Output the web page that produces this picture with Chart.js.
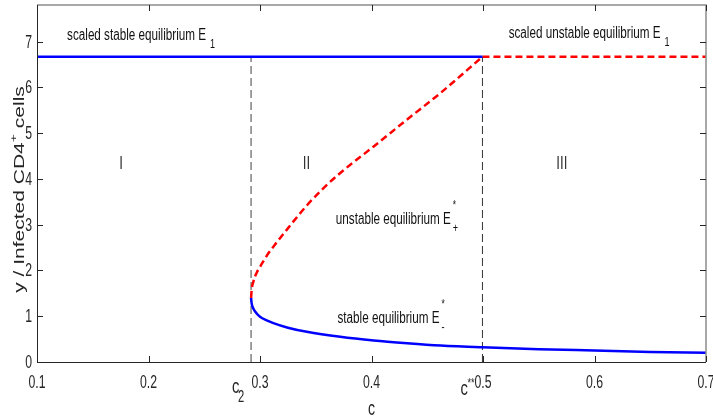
<!DOCTYPE html>
<html>
<head>
<meta charset="utf-8">
<script src="https://cdn.jsdelivr.net/npm/chart.js@4.4.1/dist/chart.umd.min.js"></script>
<style>
  html, body { margin: 0; padding: 0; background: #fff; }
  #chart { display: block; }
</style>
</head>
<body>
<canvas id="chart" width="713" height="418"></canvas>
<script>
// bifurcation values
var c2 = 0.292;
var cStar = 0.4995;
var E1 = 6.67;
var xMin = 0.1, xMax = 0.7;
var yMin = 0, yMax = 7.8;
var xTicks = [0.1, 0.2, 0.3, 0.4, 0.5, 0.6, 0.7];
var yTicks = [0, 1, 2, 3, 4, 5, 6, 7];

// unstable branch E+*
var upperC = [0.292, 0.2925, 0.294, 0.297, 0.3003, 0.306, 0.312, 0.325, 0.342, 0.357, 0.372, 0.402, 0.432, 0.462, 0.4995];
var upperY = [1.40, 1.57, 1.75, 1.95, 2.09, 2.32, 2.52, 2.92, 3.42, 3.80, 4.13, 4.71, 5.30, 5.88, 6.67];

// stable branch E-*
var lowerC = [0.292, 0.2925, 0.294, 0.297, 0.300, 0.306, 0.312, 0.325, 0.342, 0.372, 0.402, 0.432, 0.462, 0.4995, 0.55, 0.6, 0.65, 0.7];
var lowerY = [1.40, 1.28, 1.17, 1.06, 0.99, 0.91, 0.85, 0.75, 0.66, 0.55, 0.47, 0.41, 0.36, 0.32, 0.28, 0.25, 0.22, 0.20];

function pts(xs, ys) {
    return xs.map(function (x, i) { return { x: x, y: ys[i] }; });
}

var FONT = "'Liberation Sans', Arial, sans-serif";
var S = 0.7; // the figure's text is horizontally squeezed
var TXT = '#262626';

var annotations = {
    id: 'annotations',
    afterDraw: function (chart) {
        var c = chart.ctx;
        var xs = chart.scales.x, ys = chart.scales.y;
        var a = chart.chartArea;

        // draws squeezed text, returns its on-screen width
        function txt(str, x, y, size, align, base, color, sq) {
            var k = sq || S;
            c.save();
            c.translate(x, y);
            c.scale(k, 1);
            c.font = size + 'px ' + FONT;
            c.textAlign = align || 'left';
            c.textBaseline = base || 'alphabetic';
            c.fillStyle = color || '#111';
            c.fillText(str, 0, 0);
            var w = c.measureText(str).width * k;
            c.restore();
            return w;
        }

        c.save();

        // box
        c.lineWidth = 1.5;
        c.strokeStyle = '#8c8c8c';
        c.beginPath();
        c.moveTo(a.left, a.top); c.lineTo(a.right, a.top); c.lineTo(a.right, a.bottom);
        c.stroke();
        c.lineWidth = 1;
        c.strokeStyle = '#262626';
        c.beginPath();
        c.moveTo(a.left + 0.5, a.top); c.lineTo(a.left + 0.5, a.bottom + 0.5); c.lineTo(a.right, a.bottom + 0.5);
        c.stroke();

        // inward ticks on all four sides + tick labels
        var tl = 6;
        c.beginPath();
        xs.ticks.forEach(function (t) {
            var px = Math.round(xs.getPixelForValue(t.value)) + 0.5;
            c.moveTo(px, a.bottom); c.lineTo(px, a.bottom - tl);
            c.moveTo(px, a.top); c.lineTo(px, a.top + tl);
        });
        ys.ticks.forEach(function (t) {
            var py = Math.round(ys.getPixelForValue(t.value)) + 0.5;
            c.moveTo(a.left, py); c.lineTo(a.left + tl, py);
            c.moveTo(a.right, py); c.lineTo(a.right - tl, py);
        });
        c.stroke();
        xs.ticks.forEach(function (t) {
            txt(t.value.toFixed(1), xs.getPixelForValue(t.value), a.bottom + 26, 17.5, 'center', 'alphabetic', TXT);
        });
        ys.ticks.forEach(function (t) {
            txt(String(t.value), a.left - 5, ys.getPixelForValue(t.value) + 6, 17.5, 'right', 'alphabetic', TXT);
        });

        function label(text, cx, cy, sup, sub, gap) {
            var x = xs.getPixelForValue(cx), y = ys.getPixelForValue(cy);
            var w = txt(text, x, y, 16, 'left', 'alphabetic', '#111', 0.73);
            if (sup) txt(sup, x + w + gap, y - 15, 12);
            if (sub) txt(sub, x + w + gap, y + 8, 13);
        }
        label('scaled stable equilibrium E', 0.127, 7.045, null, '1', 4);
        label('scaled unstable equilibrium E', 0.523, 7.08, null, '1', 4);
        label('unstable equilibrium E', 0.368, 3.01, '*', '+', 2);
        label('stable equilibrium E', 0.3695, 0.86, '*', '-', 2);

        // region numerals
        var ny = ys.getPixelForValue(4.33);
        txt('I', xs.getPixelForValue(0.1755), ny, 19, 'center', 'middle', '#333');
        txt('II', xs.getPixelForValue(0.3416), ny, 19, 'center', 'middle', '#333');
        txt('III', xs.getPixelForValue(0.5707), ny, 19, 'center', 'middle', '#333');

        // special x labels
        var bx = xs.getPixelForValue(c2);
        txt('c', bx - 19, a.bottom + 31, 21, 'left', 'alphabetic', TXT);
        txt('2', bx - 13, a.bottom + 40, 16, 'left', 'alphabetic', TXT);
        var sx = xs.getPixelForValue(cStar);
        txt('c', sx - 22, a.bottom + 33, 21, 'left', 'alphabetic', TXT);
        txt('**', sx - 15, a.bottom + 25, 13, 'left', 'alphabetic', TXT);

        // x title
        txt('c', (a.left + a.right) / 2, a.bottom + 53, 20, 'center', 'alphabetic', TXT);

        // y title with superscript
        c.translate(23.5, (a.top + a.bottom) / 2 + 6);
        c.scale(S, 1);
        c.rotate(-Math.PI / 2);
        c.fillStyle = TXT;
        c.textAlign = 'left';
        c.textBaseline = 'alphabetic';
        var t1 = 'y / Infected CD4', t2 = '+', t3 = ' cells';
        c.font = '21px ' + FONT;
        var w1 = c.measureText(t1).width, w3 = c.measureText(t3).width;
        c.font = '14px ' + FONT;
        var w2 = c.measureText(t2).width;
        var x0 = -(w1 + w2 + w3) / 2;
        c.font = '21px ' + FONT;
        c.fillText(t1, x0, 0);
        c.font = '14px ' + FONT;
        c.fillText(t2, x0 + w1, -9);
        c.font = '21px ' + FONT;
        c.fillText(t3, x0 + w1 + w2, 0);

        c.restore();
    }
};

var ctx = document.getElementById('chart').getContext('2d');
var myChart = new Chart(ctx, {
    type: 'scatter',
    data: {
        datasets: [
            {
                label: 'scaled stable E1',
                data: [{ x: xMin, y: E1 }, { x: cStar, y: E1 }],
                borderColor: '#0000ff', borderWidth: 2.5, showLine: true, pointRadius: 0
            },
            {
                label: 'scaled unstable E1',
                data: [{ x: cStar, y: E1 }, { x: xMax, y: E1 }],
                borderColor: '#ff0000', borderWidth: 2.5, borderDash: [7, 4], showLine: true, pointRadius: 0
            },
            {
                label: 'unstable E+*',
                data: pts(upperC, upperY),
                borderColor: '#ff0000', borderWidth: 2.5, borderDash: [7, 4], showLine: true, pointRadius: 0,
                cubicInterpolationMode: 'monotone'
            },
            {
                label: 'stable E-*',
                data: pts(lowerC, lowerY),
                borderColor: '#0000ff', borderWidth: 2.5, showLine: true, pointRadius: 0,
                cubicInterpolationMode: 'monotone'
            },
            {
                label: 'c2',
                data: [{ x: c2, y: 0 }, { x: c2, y: E1 }],
                borderColor: '#808080', borderWidth: 1.5, borderDash: [8, 4], showLine: true, pointRadius: 0
            },
            {
                label: 'c**',
                data: [{ x: cStar, y: 0 }, { x: cStar, y: E1 }],
                borderColor: '#333333', borderWidth: 1, borderDash: [8, 4], showLine: true, pointRadius: 0
            }
        ]
    },
    options: {
        responsive: false,
        animation: false,
        layout: { padding: { left: 0, top: 5, right: 7, bottom: 0 } },
        plugins: {
            legend: { display: false },
            tooltip: { enabled: false }
        },
        scales: {
            x: {
                type: 'linear',
                min: xMin, max: xMax,
                grid: { display: false, drawTicks: false },
                border: { display: false },
                ticks: { display: false },
                afterBuildTicks: function (scale) {
                    scale.ticks = xTicks.map(function (v) { return { value: v }; });
                },
                afterFit: function (scale) {
                    scale.height = 56;
                    scale.paddingLeft = 0; scale.paddingRight = 0;
                }
            },
            y: {
                type: 'linear',
                min: yMin, max: yMax,
                grid: { display: false, drawTicks: false },
                border: { display: false },
                ticks: { display: false },
                afterBuildTicks: function (scale) {
                    scale.ticks = yTicks.map(function (v) { return { value: v }; });
                },
                afterFit: function (scale) {
                    scale.width = 37;
                    scale.paddingTop = 0; scale.paddingBottom = 0;
                }
            }
        }
    },
    plugins: [annotations]
});
</script>
</body>
</html>
